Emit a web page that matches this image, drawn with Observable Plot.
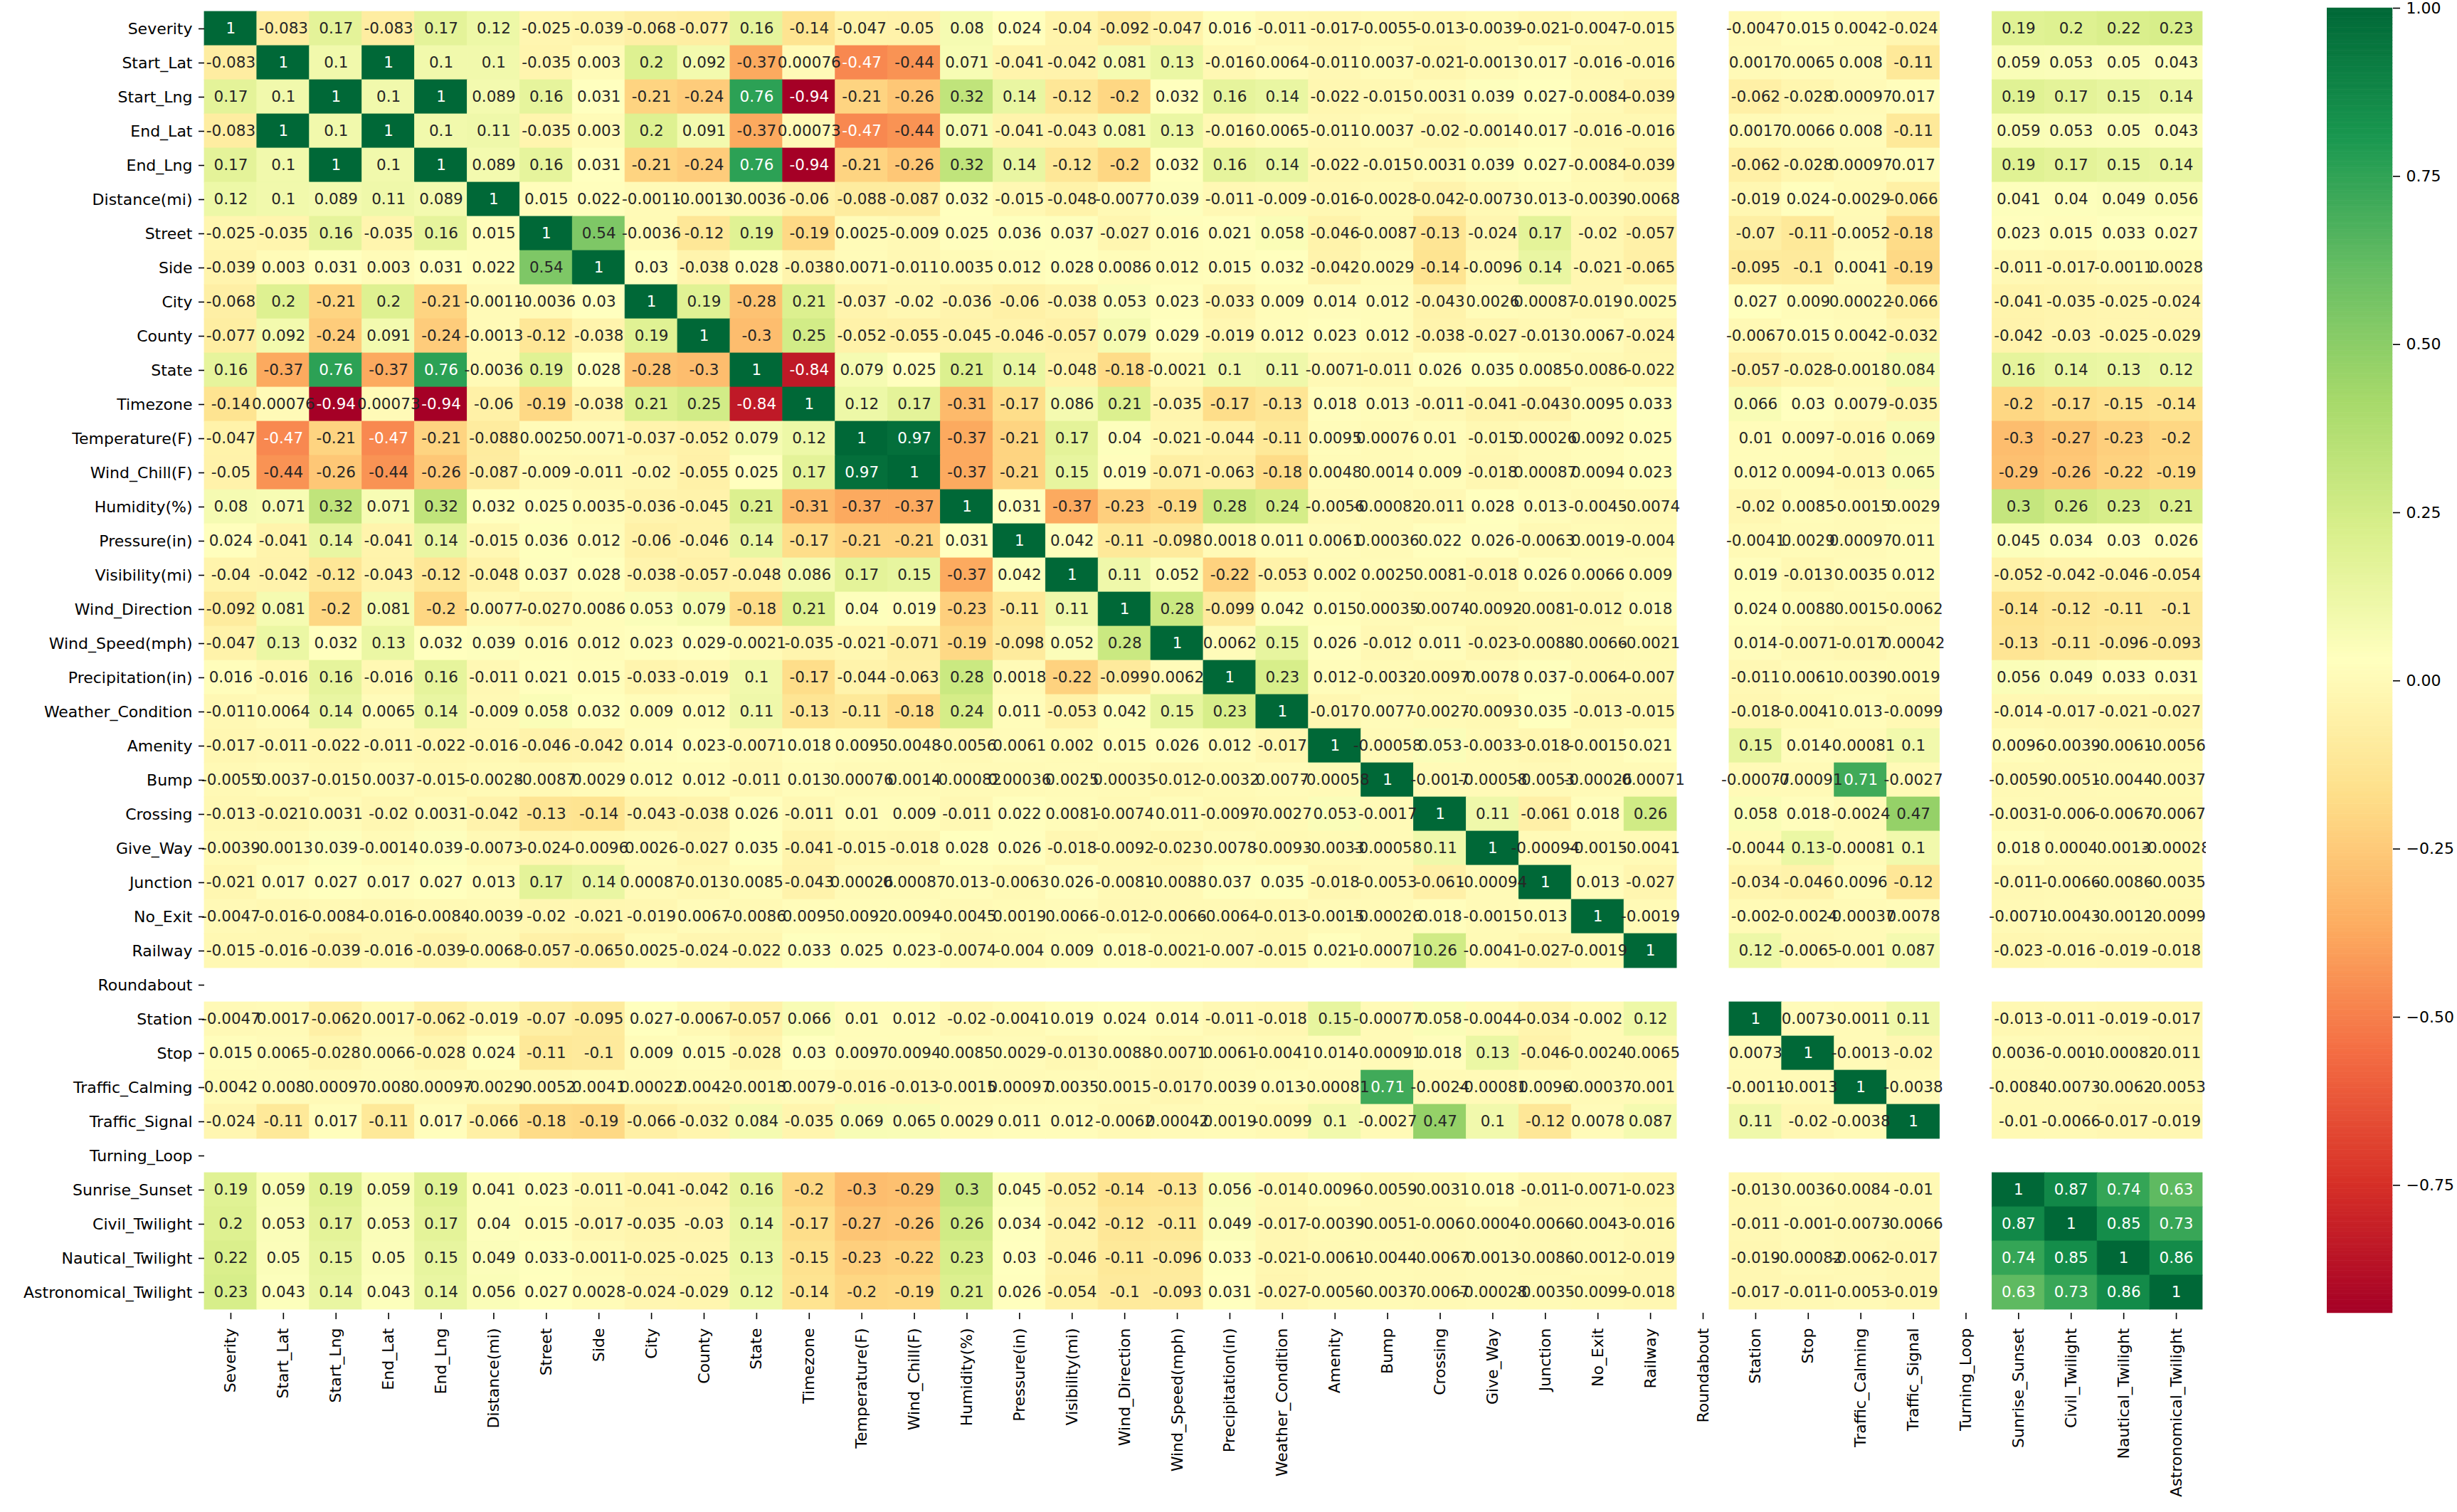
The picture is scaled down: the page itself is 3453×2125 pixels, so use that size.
<!DOCTYPE html>
<html><head><meta charset="utf-8">
<script src="https://cdn.jsdelivr.net/npm/d3@7"></script>
<script src="https://cdn.jsdelivr.net/npm/@observablehq/plot@0.6"></script>
<style>
html,body{margin:0;padding:0;background:#fff;}
#wrap{position:relative;width:3453px;height:2125px;overflow:hidden;background:#fff;}
#main{position:absolute;left:0;top:0;width:3100px;height:2125px;}
#cbar{position:absolute;left:3270px;top:0;width:242px;height:2125px;}
#wrap svg{max-width:none !important;}
</style></head><body><div id="wrap"><div id="main"></div><div id="cbar"></div></div>
<script>
// Variable names (rows and columns, in order)
const labels = ["Severity","Start_Lat","Start_Lng","End_Lat","End_Lng","Distance(mi)","Street","Side","City","County","State","Timezone","Temperature(F)","Wind_Chill(F)","Humidity(%)","Pressure(in)","Visibility(mi)","Wind_Direction","Wind_Speed(mph)","Precipitation(in)","Weather_Condition","Amenity","Bump","Crossing","Give_Way","Junction","No_Exit","Railway","Roundabout","Station","Stop","Traffic_Calming","Traffic_Signal","Turning_Loop","Sunrise_Sunset","Civil_Twilight","Nautical_Twilight","Astronomical_Twilight"];

// Lower triangle of the correlation matrix (row i holds columns 0..i); null / empty = NaN (blank)
const lowerRows = [
  [1],
  [-0.083, 1],
  [0.17, 0.1, 1],
  [-0.083, 1, 0.1, 1],
  [0.17, 0.1, 1, 0.1, 1],
  [0.12, 0.1, 0.089, 0.11, 0.089, 1],
  [-0.025, -0.035, 0.16, -0.035, 0.16, 0.015, 1],
  [-0.039, 0.003, 0.031, 0.003, 0.031, 0.022, 0.54, 1],
  [-0.068, 0.2, -0.21, 0.2, -0.21, -0.0011, -0.0036, 0.03, 1],
  [-0.077, 0.092, -0.24, 0.091, -0.24, -0.0013, -0.12, -0.038, 0.19, 1],
  [0.16, -0.37, 0.76, -0.37, 0.76, -0.0036, 0.19, 0.028, -0.28, -0.3, 1],
  [-0.14, 0.00076, -0.94, 0.00073, -0.94, -0.06, -0.19, -0.038, 0.21, 0.25, -0.84, 1],
  [-0.047, -0.47, -0.21, -0.47, -0.21, -0.088, 0.0025, 0.0071, -0.037, -0.052, 0.079, 0.12, 1],
  [-0.05, -0.44, -0.26, -0.44, -0.26, -0.087, -0.009, -0.011, -0.02, -0.055, 0.025, 0.17, 0.97, 1],
  [0.08, 0.071, 0.32, 0.071, 0.32, 0.032, 0.025, 0.0035, -0.036, -0.045, 0.21, -0.31, -0.37, -0.37, 1],
  [0.024, -0.041, 0.14, -0.041, 0.14, -0.015, 0.036, 0.012, -0.06, -0.046, 0.14, -0.17, -0.21, -0.21, 0.031, 1],
  [-0.04, -0.042, -0.12, -0.043, -0.12, -0.048, 0.037, 0.028, -0.038, -0.057, -0.048, 0.086, 0.17, 0.15, -0.37, 0.042, 1],
  [-0.092, 0.081, -0.2, 0.081, -0.2, -0.0077, -0.027, 0.0086, 0.053, 0.079, -0.18, 0.21, 0.04, 0.019, -0.23, -0.11, 0.11, 1],
  [-0.047, 0.13, 0.032, 0.13, 0.032, 0.039, 0.016, 0.012, 0.023, 0.029, -0.0021, -0.035, -0.021, -0.071, -0.19, -0.098, 0.052, 0.28, 1],
  [0.016, -0.016, 0.16, -0.016, 0.16, -0.011, 0.021, 0.015, -0.033, -0.019, 0.1, -0.17, -0.044, -0.063, 0.28, 0.0018, -0.22, -0.099, 0.0062, 1],
  [-0.011, 0.0064, 0.14, 0.0065, 0.14, -0.009, 0.058, 0.032, 0.009, 0.012, 0.11, -0.13, -0.11, -0.18, 0.24, 0.011, -0.053, 0.042, 0.15, 0.23, 1],
  [-0.017, -0.011, -0.022, -0.011, -0.022, -0.016, -0.046, -0.042, 0.014, 0.023, -0.0071, 0.018, 0.0095, 0.0048, -0.0056, 0.0061, 0.002, 0.015, 0.026, 0.012, -0.017, 1],
  [-0.0055, 0.0037, -0.015, 0.0037, -0.015, -0.0028, -0.0087, 0.0029, 0.012, 0.012, -0.011, 0.013, 0.00076, 0.0014, -0.00082, 0.00036, 0.0025, 0.00035, -0.012, -0.0032, 0.0077, -0.00058, 1],
  [-0.013, -0.021, 0.0031, -0.02, 0.0031, -0.042, -0.13, -0.14, -0.043, -0.038, 0.026, -0.011, 0.01, 0.009, -0.011, 0.022, 0.0081, -0.0074, 0.011, -0.0097, -0.0027, 0.053, -0.0017, 1],
  [-0.0039, -0.0013, 0.039, -0.0014, 0.039, -0.0073, -0.024, -0.0096, 0.0026, -0.027, 0.035, -0.041, -0.015, -0.018, 0.028, 0.026, -0.018, -0.0092, -0.023, 0.0078, -0.0093, -0.0033, -0.00058, 0.11, 1],
  [-0.021, 0.017, 0.027, 0.017, 0.027, 0.013, 0.17, 0.14, 0.00087, -0.013, 0.0085, -0.043, 0.00026, 0.00087, 0.013, -0.0063, 0.026, -0.0081, -0.0088, 0.037, 0.035, -0.018, -0.0053, -0.061, -0.00094, 1],
  [-0.0047, -0.016, -0.0084, -0.016, -0.0084, -0.0039, -0.02, -0.021, -0.019, 0.0067, -0.0086, 0.0095, 0.0092, 0.0094, -0.0045, 0.0019, 0.0066, -0.012, -0.0066, -0.0064, -0.013, -0.0015, -0.00026, 0.018, -0.0015, 0.013, 1],
  [-0.015, -0.016, -0.039, -0.016, -0.039, -0.0068, -0.057, -0.065, 0.0025, -0.024, -0.022, 0.033, 0.025, 0.023, -0.0074, -0.004, 0.009, 0.018, -0.0021, -0.007, -0.015, 0.021, -0.00071, 0.26, -0.0041, -0.027, -0.0019, 1],
  [],
  [-0.0047, 0.0017, -0.062, 0.0017, -0.062, -0.019, -0.07, -0.095, 0.027, -0.0067, -0.057, 0.066, 0.01, 0.012, -0.02, -0.0041, 0.019, 0.024, 0.014, -0.011, -0.018, 0.15, -0.00077, 0.058, -0.0044, -0.034, -0.002, 0.12, null, 1],
  [0.015, 0.0065, -0.028, 0.0066, -0.028, 0.024, -0.11, -0.1, 0.009, 0.015, -0.028, 0.03, 0.0097, 0.0094, 0.0085, 0.0029, -0.013, 0.0088, -0.0071, 0.0061, -0.0041, 0.014, -0.00091, 0.018, 0.13, -0.046, -0.0024, -0.0065, null, 0.0073, 1],
  [0.0042, 0.008, 0.00097, 0.008, 0.00097, -0.0029, -0.0052, 0.0041, 0.00022, 0.0042, -0.0018, 0.0079, -0.016, -0.013, -0.0015, 0.00097, 0.0035, 0.0015, -0.017, 0.0039, 0.013, -0.00081, 0.71, -0.0024, -0.00081, 0.0096, -0.00037, -0.001, null, -0.0011, -0.0013, 1],
  [-0.024, -0.11, 0.017, -0.11, 0.017, -0.066, -0.18, -0.19, -0.066, -0.032, 0.084, -0.035, 0.069, 0.065, 0.0029, 0.011, 0.012, -0.0062, 0.00042, 0.0019, -0.0099, 0.1, -0.0027, 0.47, 0.1, -0.12, 0.0078, 0.087, null, 0.11, -0.02, -0.0038, 1],
  [],
  [0.19, 0.059, 0.19, 0.059, 0.19, 0.041, 0.023, -0.011, -0.041, -0.042, 0.16, -0.2, -0.3, -0.29, 0.3, 0.045, -0.052, -0.14, -0.13, 0.056, -0.014, 0.0096, -0.0059, -0.0031, 0.018, -0.011, -0.0071, -0.023, null, -0.013, 0.0036, -0.0084, -0.01, null, 1],
  [0.2, 0.053, 0.17, 0.053, 0.17, 0.04, 0.015, -0.017, -0.035, -0.03, 0.14, -0.17, -0.27, -0.26, 0.26, 0.034, -0.042, -0.12, -0.11, 0.049, -0.017, -0.0039, -0.0051, -0.006, 0.0004, -0.0066, -0.0043, -0.016, null, -0.011, -0.001, -0.0073, -0.0066, null, 0.87, 1],
  [0.22, 0.05, 0.15, 0.05, 0.15, 0.049, 0.033, -0.0011, -0.025, -0.025, 0.13, -0.15, -0.23, -0.22, 0.23, 0.03, -0.046, -0.11, -0.096, 0.033, -0.021, -0.0061, -0.0044, -0.0067, 0.0013, -0.0086, -0.0012, -0.019, null, -0.019, -0.00082, -0.0062, -0.017, null, 0.74, 0.85, 1],
  [0.23, 0.043, 0.14, 0.043, 0.14, 0.056, 0.027, 0.0028, -0.024, -0.029, 0.12, -0.14, -0.2, -0.19, 0.21, 0.026, -0.054, -0.1, -0.093, 0.031, -0.027, -0.0056, -0.0037, -0.0067, -0.00028, -0.0035, -0.0099, -0.018, null, -0.017, -0.011, -0.0053, -0.019, null, 0.63, 0.73, 0.86, 1]
];

// Colorbar ticks
const colorbarTicks = [-0.75, -0.5, -0.25, 0, 0.25, 0.5, 0.75, 1.0];

// RdYlGn colormap stops (matplotlib / ColorBrewer)
const rdylgn = ["#a50026","#d73027","#f46d43","#fdae61","#fee08b","#ffffbf","#d9ef8b","#a6d96a","#66bd63","#1a9850","#006837"];

// Build full symmetric table
function valueAt(i, j) {
  const a = Math.max(i, j), b = Math.min(i, j);
  const v = lowerRows[a][b];
  return (v === undefined || v === null) ? null : v;
}
const cells = [];
labels.forEach((rl, i) => labels.forEach((cl, j) => {
  const v = valueAt(i, j);
  if (v !== null) cells.push({row: rl, col: cl, value: v});
}));

const vmin = d3.min(cells, d => d.value);
const vmax = d3.max(cells, d => d.value);
const stops = d3.range(rdylgn.length).map(k => vmin + k * (vmax - vmin) / (rdylgn.length - 1));
const colorOpts = {type: "linear", domain: stops, range: rdylgn, interpolate: "rgb"};

// text colour like seaborn (based on relative luminance of the cell colour)
const lumScale = d3.scaleLinear().domain(stops).range(rdylgn).interpolate(d3.interpolateRgb);
function relLum(v) {
  const c = d3.rgb(lumScale(v));
  const f = x => { x /= 255; return x <= 0.03928 ? x / 12.92 : Math.pow((x + 0.055) / 1.055, 2.4); };
  return 0.2126 * f(c.r) + 0.7152 * f(c.g) + 0.0722 * f(c.b);
}
cells.forEach(d => { d.light = relLum(d.value) > 0.40; d.label = String(d.value); });

const annFont = 21.5;
const main = Plot.plot({
  width: 3100, height: 2125,
  marginLeft: 287, marginRight: 5, marginTop: 11, marginBottom: 280,
  x: {domain: labels, padding: 0, axis: null},
  y: {domain: labels, padding: 0, axis: null},
  color: colorOpts,
  style: {fontFamily: "DejaVu Sans", fontSize: "22px", background: "white", color: "black", maxWidth: "none"},
  marks: [
    Plot.cell(cells, {x: "col", y: "row", fill: "value", stroke: "value", strokeWidth: 0.8, inset: 0}),
    Plot.text(cells.filter(d => d.light), {x: "col", y: "row", text: "label", fill: "#262626", fontSize: annFont}),
    Plot.text(cells.filter(d => !d.light), {x: "col", y: "row", text: "label", fill: "white", fontSize: annFont}),
    Plot.axisX({anchor: "bottom", tickRotate: -90, tickSize: 9, tickPadding: 12, strokeWidth: 1.6, label: null}),
    Plot.axisY({anchor: "left", tickSize: 8, tickPadding: 9, strokeWidth: 1.6, label: null})
  ]
});
document.getElementById("main").appendChild(main);

// Colorbar
const step = (vmax - vmin) / 400;
const gradient = d3.range(400).map(k => vmin + k * step);
const cbar = Plot.plot({
  width: 242, height: 2125,
  marginLeft: 0, marginRight: 150, marginTop: 11, marginBottom: 280,
  x: {domain: [0, 1], axis: null},
  y: {domain: [vmin, vmax], axis: null},
  color: colorOpts,
  style: {fontFamily: "DejaVu Sans", fontSize: "22px", background: "white", color: "black", maxWidth: "none"},
  marks: [
    Plot.rect(gradient, {x1: 0, x2: 1, y1: d => d, y2: d => Math.min(d + step * 1.05, vmax), fill: d => d + step / 2, stroke: d => d + step / 2, strokeWidth: 0.5}),
    Plot.axisY({anchor: "right", ticks: colorbarTicks, tickFormat: d3.format(".2f"), tickSize: 10, tickPadding: 9, strokeWidth: 1.6, label: null})
  ]
});
document.getElementById("cbar").appendChild(cbar);
</script>
</body></html>
